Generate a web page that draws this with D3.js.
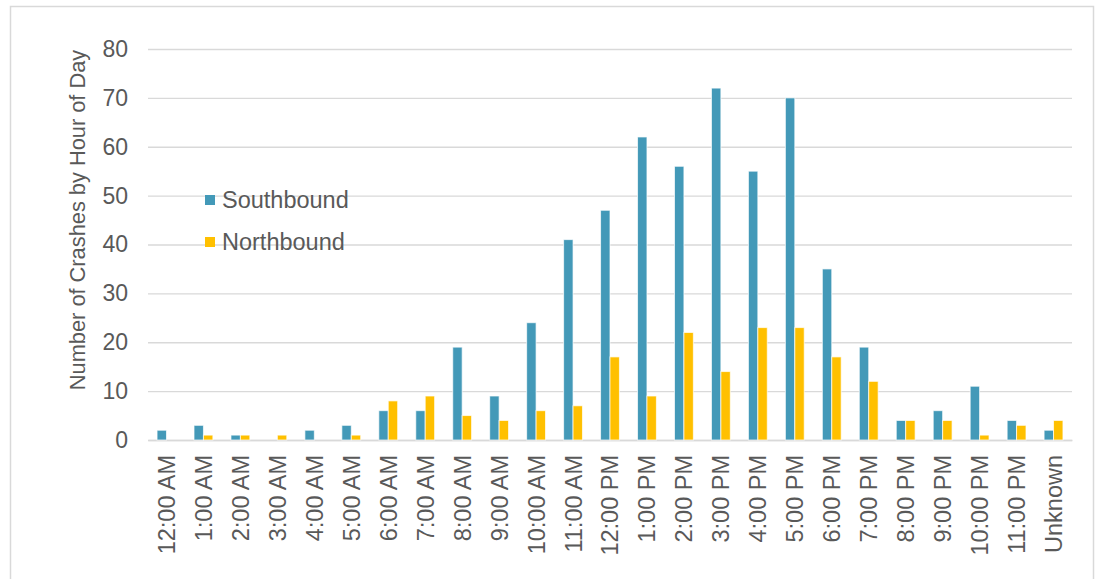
<!DOCTYPE html>
<html>
<head>
<meta charset="utf-8">
<script src="https://cdn.jsdelivr.net/npm/d3@7"></script>
<style>
	body { margin: 0; background: #fff; }
	svg { display: block; font-family: "Liberation Sans", Arial, sans-serif; }
</style>
</head>
<body>
<svg id="chart" width="1102" height="579"></svg>
<script>
/*
	Crashes by hour of day
	======================
	Clustered columns, southbound vs northbound
*/
const HOURS = ["12:00 AM", "1:00 AM", "2:00 AM", "3:00 AM", "4:00 AM", "5:00 AM", "6:00 AM", "7:00 AM",
	"8:00 AM", "9:00 AM", "10:00 AM", "11:00 AM", "12:00 PM", "1:00 PM", "2:00 PM", "3:00 PM", "4:00 PM",
	"5:00 PM", "6:00 PM", "7:00 PM", "8:00 PM", "9:00 PM", "10:00 PM", "11:00 PM", "Unknown"];
const SOUTHBOUND = [2, 3, 1, 0, 2, 3, 6, 6, 19, 9, 24, 41, 47, 62, 56, 72, 55, 70, 35, 19, 4, 6, 11, 4, 2];
const NORTHBOUND = [0, 1, 1, 1, 0, 1, 8, 9, 5, 4, 6, 7, 17, 9, 22, 14, 23, 23, 17, 12, 4, 4, 1, 3, 4];
const SERIES = ["Southbound", "Northbound"];
const Y_TICKS = [0, 10, 20, 30, 40, 50, 60, 70, 80];
const Y_TITLE = "Number of Crashes by Hour of Day";

const COLORS = { Southbound: "#4399b8", Northbound: "#ffc000" };
const TEXT = "#595959";
const GRID = "#d9d9d9";

const svg = d3.select("#chart");
const W = 1102, H = 579;
const margin = { top: 49, right: 30, bottom: 139, left: 148 };

// outer frame
svg.append("rect")
	.attr("x", 10.5).attr("y", 6.5)
	.attr("width", 1083).attr("height", 590)
	.attr("fill", "none").attr("stroke", GRID).attr("stroke-width", 1.5);

const g = svg.append("g").attr("transform", `translate(${margin.left},${margin.top})`);
const iw = W - margin.left - margin.right;
const ih = H - margin.top - margin.bottom;

const x0 = d3.scaleBand().domain(HOURS).range([0, iw]).paddingInner(0.49).paddingOuter(0.245);
const x1 = d3.scaleBand().domain(SERIES).range([0, x0.bandwidth()]).padding(0);
const y = d3.scaleLinear().domain([0, 80]).range([ih, 0]);

// gridlines + y labels
const yAxis = g.append("g")
	.call(d3.axisLeft(y).tickValues(Y_TICKS).tickSize(-iw).tickPadding(20));
yAxis.select(".domain").remove();
yAxis.selectAll(".tick line").attr("stroke", GRID).attr("stroke-width", 1.3);
yAxis.selectAll(".tick text")
	.attr("fill", TEXT).style("font-size", "23px");

// category labels, rotated
const xAxis = g.append("g")
	.attr("transform", `translate(0,${ih})`)
	.call(d3.axisBottom(x0).tickSize(0));
xAxis.select(".domain").attr("stroke", GRID).attr("stroke-width", 1.3);
xAxis.selectAll(".tick text")
	.attr("fill", TEXT).style("font-size", "23.5px")
	.attr("text-anchor", "end")
	.attr("dy", "0.36em")
	.attr("transform", "translate(0,15) rotate(-90)")
	.attr("x", 0).attr("y", 0);

// bars
const rows = HOURS.map((h, i) => ({ hour: h, Southbound: SOUTHBOUND[i], Northbound: NORTHBOUND[i] }));
g.append("g").selectAll("g")
	.data(rows).enter().append("g")
	.attr("transform", d => `translate(${x0(d.hour)},0)`)
	.selectAll("rect")
	.data(d => SERIES.map(s => ({ key: s, value: d[s] })))
	.enter().append("rect")
	.attr("x", d => x1(d.key))
	.attr("y", d => y(d.value))
	.attr("width", x1.bandwidth())
	.attr("height", d => ih - y(d.value))
	.attr("fill", d => COLORS[d.key])
	.attr("stroke", "#fff").attr("stroke-opacity", 0.7).attr("stroke-width", 1);

// y title
svg.append("text")
	.attr("transform", "translate(77,220) rotate(-90)")
	.attr("text-anchor", "middle").attr("dy", "0.35em")
	.attr("fill", TEXT).style("font-size", "21.8px")
	.text(Y_TITLE);

// legend
const legend = svg.append("g").attr("transform", "translate(205,200)");
SERIES.forEach((s, i) => {
	const row = legend.append("g").attr("transform", `translate(0,${i * 42})`);
	row.append("rect").attr("x", 0).attr("y", -5).attr("width", 10).attr("height", 10).attr("fill", COLORS[s]);
	row.append("text").attr("x", 17).attr("dy", "0.36em")
		.attr("fill", TEXT).style("font-size", "23.5px").text(s);
});
</script>
</body>
</html>
